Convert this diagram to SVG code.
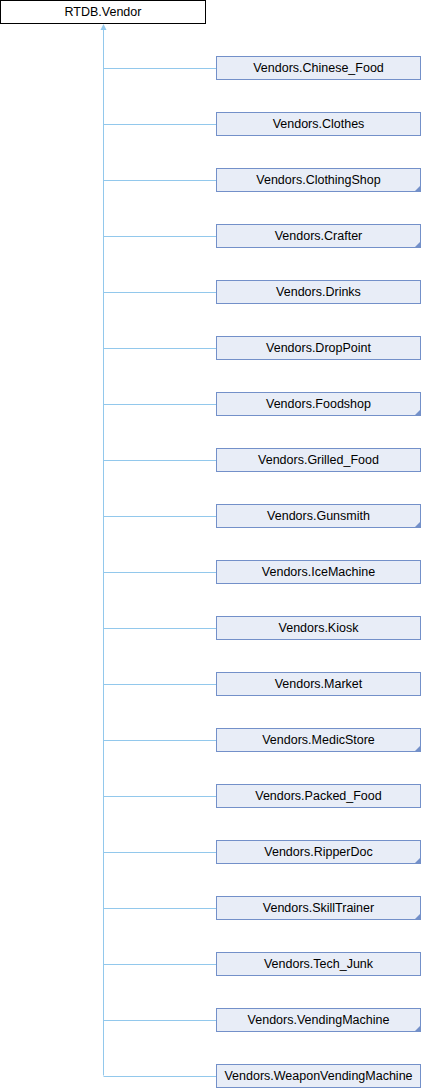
<svg xmlns="http://www.w3.org/2000/svg" width="422" height="1088" viewBox="0 0 422 1088">
<style>
.t{font-family:"Liberation Sans",Arial,sans-serif;font-size:12.5px;fill:#000;text-anchor:middle}
.c{fill:#E8EDF7;stroke:#7390C9;stroke-width:1}
.r{fill:#fff;stroke:#000;stroke-width:1}
.e{fill:none;stroke:#92C8EC;stroke-width:1}
.k{fill:#7390C9;stroke:none}
</style>
<defs>
<polygon id="corner" class="k" points="420,80 420,74 414,80"/>
</defs>
<g id="connectors">
<line class="e" x1="103.5" y1="29" x2="103.5" y2="1075.5"/>
<polygon points="103.5,24 100.5,30 106.5,30" fill="#92C8EC"/>
<path class="e" d="M103.5 68.5H216.5M103.5 124.5H216.5M103.5 180.5H216.5M103.5 236.5H216.5M103.5 292.5H216.5M103.5 348.5H216.5M103.5 404.5H216.5M103.5 460.5H216.5M103.5 516.5H216.5M103.5 572.5H216.5M103.5 628.5H216.5M103.5 684.5H216.5M103.5 740.5H216.5M103.5 796.5H216.5M103.5 852.5H216.5M103.5 908.5H216.5M103.5 964.5H216.5M103.5 1020.5H216.5M103.5 1076.5H216.5"/>
</g>
<g id="RTDB.Vendor"><rect class="r" x="0.5" y="0.5" width="205" height="23"/><text class="t" x="103" y="15.5">RTDB.Vendor</text></g>
<g id="Chinese_Food" transform="translate(0,0)"><rect class="c" x="216.5" y="56.5" width="204" height="23"/><text class="t" x="318.5" y="71.5">Vendors.Chinese_Food</text></g>
<g id="Clothes" transform="translate(0,56)"><rect class="c" x="216.5" y="56.5" width="204" height="23"/><text class="t" x="318.5" y="71.5">Vendors.Clothes</text></g>
<g id="ClothingShop" transform="translate(0,112)"><rect class="c" x="216.5" y="56.5" width="204" height="23"/><text class="t" x="318.5" y="71.5">Vendors.ClothingShop</text><use href="#corner"/></g>
<g id="Crafter" transform="translate(0,168)"><rect class="c" x="216.5" y="56.5" width="204" height="23"/><text class="t" x="318.5" y="71.5">Vendors.Crafter</text><use href="#corner"/></g>
<g id="Drinks" transform="translate(0,224)"><rect class="c" x="216.5" y="56.5" width="204" height="23"/><text class="t" x="318.5" y="71.5">Vendors.Drinks</text></g>
<g id="DropPoint" transform="translate(0,280)"><rect class="c" x="216.5" y="56.5" width="204" height="23"/><text class="t" x="318.5" y="71.5">Vendors.DropPoint</text></g>
<g id="Foodshop" transform="translate(0,336)"><rect class="c" x="216.5" y="56.5" width="204" height="23"/><text class="t" x="318.5" y="71.5">Vendors.Foodshop</text><use href="#corner"/></g>
<g id="Grilled_Food" transform="translate(0,392)"><rect class="c" x="216.5" y="56.5" width="204" height="23"/><text class="t" x="318.5" y="71.5">Vendors.Grilled_Food</text></g>
<g id="Gunsmith" transform="translate(0,448)"><rect class="c" x="216.5" y="56.5" width="204" height="23"/><text class="t" x="318.5" y="71.5">Vendors.Gunsmith</text><use href="#corner"/></g>
<g id="IceMachine" transform="translate(0,504)"><rect class="c" x="216.5" y="56.5" width="204" height="23"/><text class="t" x="318.5" y="71.5">Vendors.IceMachine</text></g>
<g id="Kiosk" transform="translate(0,560)"><rect class="c" x="216.5" y="56.5" width="204" height="23"/><text class="t" x="318.5" y="71.5">Vendors.Kiosk</text></g>
<g id="Market" transform="translate(0,616)"><rect class="c" x="216.5" y="56.5" width="204" height="23"/><text class="t" x="318.5" y="71.5">Vendors.Market</text></g>
<g id="MedicStore" transform="translate(0,672)"><rect class="c" x="216.5" y="56.5" width="204" height="23"/><text class="t" x="318.5" y="71.5">Vendors.MedicStore</text><use href="#corner"/></g>
<g id="Packed_Food" transform="translate(0,728)"><rect class="c" x="216.5" y="56.5" width="204" height="23"/><text class="t" x="318.5" y="71.5">Vendors.Packed_Food</text></g>
<g id="RipperDoc" transform="translate(0,784)"><rect class="c" x="216.5" y="56.5" width="204" height="23"/><text class="t" x="318.5" y="71.5">Vendors.RipperDoc</text><use href="#corner"/></g>
<g id="SkillTrainer" transform="translate(0,840)"><rect class="c" x="216.5" y="56.5" width="204" height="23"/><text class="t" x="318.5" y="71.5">Vendors.SkillTrainer</text><use href="#corner"/></g>
<g id="Tech_Junk" transform="translate(0,896)"><rect class="c" x="216.5" y="56.5" width="204" height="23"/><text class="t" x="318.5" y="71.5">Vendors.Tech_Junk</text></g>
<g id="VendingMachine" transform="translate(0,952)"><rect class="c" x="216.5" y="56.5" width="204" height="23"/><text class="t" x="318.5" y="71.5">Vendors.VendingMachine</text><use href="#corner"/></g>
<g id="WeaponVendingMachine" transform="translate(0,1008)"><rect class="c" x="216.5" y="56.5" width="204" height="23"/><text class="t" x="318.5" y="71.5">Vendors.WeaponVendingMachine</text></g>
</svg>
